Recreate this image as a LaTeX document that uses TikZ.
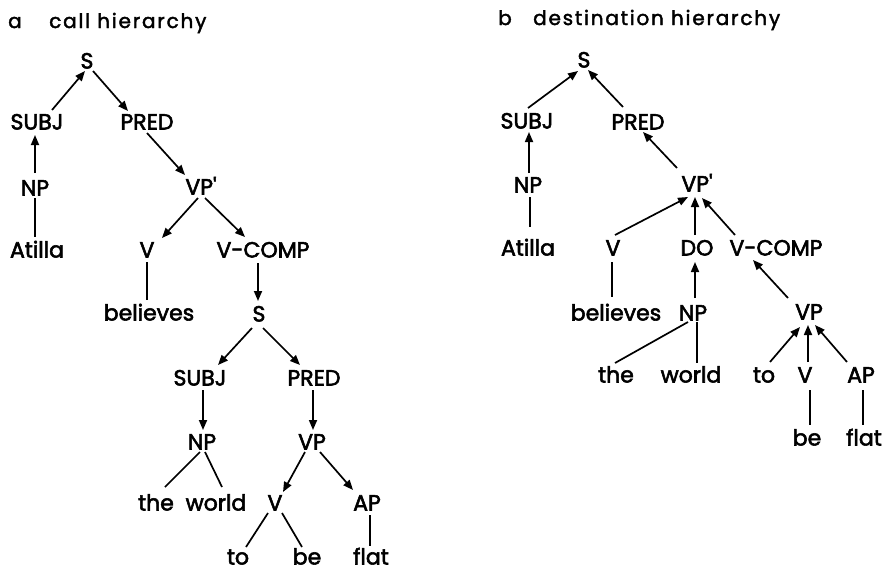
\documentclass[tikz,border=0pt]{standalone}
\usepackage{fontspec}
\setmainfont{Poppins}
\newfontfamily\labfont{Poppins}[FakeBold=2.5]
\newfontfamily\ttlfont{Poppins}[FakeBold=2.0,LetterSpace=9]
\usetikzlibrary{arrows.meta,calc}
\tikzset{
  lab/.style={font=\labfont\fontsize{22}{26}\selectfont, inner sep=0pt, text height=15pt, text depth=0pt, anchor=center},
  ttl/.style={font=\ttlfont\fontsize{20}{24}\selectfont, inner sep=0pt, anchor=base west},
  edge/.style={line width=1.7pt},
  arr/.style={edge, -{Triangle[length=10pt,width=8pt]}}
}
\begin{document}
\begin{tikzpicture}[x=1pt,y=-1pt]
\useasboundingbox (0,0) rectangle (884,573);

% ---------- headings ----------
\node[ttl] (tagA) at (8,28) {a};
\node[ttl] (titleA) at (49,28) {call hierarchy};
\node[ttl] (tagB) at (498,25) {b};
\node[ttl] (titleB) at (533,25) {destination hierarchy};

% ---------- a: call hierarchy ----------
\node[lab] (sA) at (87,61) {S};
\node[lab] (subjA) at (37,122) {SUBJ};
\node[lab] (predA) at (147,122) {PRED};
\node[lab] (npA) at (35,188) {NP};
\node[lab] (atillaA) at (37,250) {Atilla};
\node[lab] (vppA) at (201,187) {VP\textquotesingle};
\node[lab] (vA) at (147,250) {V};
\node[lab] (vcompA) at (263,250) {V-COMP};
\node[lab] (believesA) at (149,313) {believes};
\node[lab] (s2A) at (259,314) {S};
\node[lab] (subj2A) at (200,378) {SUBJ};
\node[lab] (pred2A) at (314,378) {PRED};
\node[lab] (np2A) at (202,442) {NP};
\node[lab] (vpA) at (312,442) {VP};
\node[lab] (theA) at (156,503) {the};
\node[lab] (worldA) at (216,503) {world};
\node[lab] (v2A) at (275,503) {V};
\node[lab] (apA) at (367,503) {AP};
\node[lab] (toA) at (238,557) {to};
\node[lab] (beA) at (307,557) {be};
\node[lab] (flatA) at (371,557) {flat};

\draw[arr] ($(subjA)+(15,-12)$) -- ($(sA)+(-2,10)$);
\draw[arr] ($(sA)+(6,10)$) -- ($(predA)+(-19,-11)$);
\draw[arr] ($(npA)+(0,-15)$) -- ($(subjA)+(-2,13)$);
\draw[edge] ($(npA)+(0,10)$) -- ($(atillaA)+(-2,-13)$);
\draw[arr] ($(predA)+(0,11)$) -- ($(vppA)+(-16,-12)$);
\draw[arr] ($(vppA)+(-3,11)$) -- ($(vA)+(15,-12)$);
\draw[arr] ($(vppA)+(4,11)$) -- ($(vcompA)+(-18,-13)$);
\draw[edge] ($(vA)+(0,12)$) -- ($(believesA)+(-2,-13)$);
\draw[arr] ($(vcompA)+(-5,13)$) -- ($(s2A)+(-1,-13)$);
\draw[arr] ($(s2A)+(-7,14)$) -- ($(subj2A)+(18,-13)$);
\draw[arr] ($(s2A)+(4,14)$) -- ($(pred2A)+(-14,-13)$);
\draw[arr] ($(subj2A)+(3,12)$) -- ($(np2A)+(1,-12)$);
\draw[arr] ($(pred2A)+(-1,12)$) -- ($(vpA)+(1,-12)$);
\draw[arr] ($(vpA)+(-7,10)$) -- ($(v2A)+(8,-11)$);
\draw[arr] ($(vpA)+(8,10)$) -- ($(apA)+(-14,-13)$);
\draw[edge] ($(np2A)+(-2,10)$) -- ($(theA)+(9,-16)$);
\draw[edge] ($(np2A)+(3,10)$) -- ($(worldA)+(6,-16)$);
\draw[edge] ($(v2A)+(-7,10)$) -- ($(toA)+(8,-10)$);
\draw[edge] ($(v2A)+(7,10)$) -- ($(beA)+(-5,-10)$);
\draw[edge] ($(apA)+(3,12)$) -- ($(flatA)+(-1,-11)$);

% ---------- b: destination hierarchy ----------
\node[lab] (sB) at (584,60) {S};
\node[lab] (subjB) at (527,121) {SUBJ};
\node[lab] (predB) at (638,122) {PRED};
\node[lab] (npB) at (528,185) {NP};
\node[lab] (atillaB) at (528,248) {Atilla};
\node[lab] (vppB) at (697,184) {VP\textquotesingle};
\node[lab] (vB) at (613,248) {V};
\node[lab] (doB) at (697,248) {DO};
\node[lab] (vcompB) at (776,248) {V-COMP};
\node[lab] (believesB) at (616,313) {believes};
\node[lab] (np2B) at (693,313) {NP};
\node[lab] (vpB) at (809,312) {VP};
\node[lab] (theB) at (616,375) {the};
\node[lab] (worldB) at (691,375) {world};
\node[lab] (toB) at (764,375) {to};
\node[lab] (v2B) at (805,375) {V};
\node[lab] (apB) at (861,375) {AP};
\node[lab] (beB) at (807,438) {be};
\node[lab] (flatB) at (864,438) {flat};

\draw[arr] ($(subjB)+(1,-13)$) -- ($(sB)+(-6,11)$);
\draw[arr] ($(predB)+(-15,-15)$) -- ($(sB)+(4,10)$);
\draw[arr] ($(npB)+(1,-12)$) -- ($(subjB)+(2,11)$);
\draw[edge] ($(npB)+(2,12)$) -- ($(atillaB)+(2,-21)$);
\draw[arr] ($(vppB)+(-20,-16)$) -- ($(predB)+(5,10)$);
\draw[arr] ($(vB)+(2,-13)$) -- ($(vppB)+(-9,13)$);
\draw[arr] ($(doB)+(-2,-13)$) -- ($(vppB)+(-2,13)$);
\draw[arr] ($(vcompB)+(-41,-13)$) -- ($(vppB)+(5,14)$);
\draw[edge] ($(vB)+(-1,14)$) -- ($(believesB)+(-4,-16)$);
\draw[arr] ($(np2B)+(2,-15)$) -- ($(doB)+(-2,14)$);
\draw[arr] ($(vpB)+(-21,-14)$) -- ($(vcompB)+(-23,12)$);
\draw[edge] ($(np2B)+(-5,9)$) -- ($(theB)+(-1,-12)$);
\draw[edge] ($(np2B)+(4,9)$) -- ($(worldB)+(6,-12)$);
\draw[arr] ($(toB)+(6,-13)$) -- ($(vpB)+(-9,15)$);
\draw[arr] ($(v2B)+(3,-13)$) -- ($(vpB)+(-1,13)$);
\draw[arr] ($(apB)+(-14,-13)$) -- ($(vpB)+(6,13)$);
\draw[edge] ($(v2B)+(5,15)$) -- ($(beB)+(3,-13)$);
\draw[edge] ($(apB)+(2,15)$) -- ($(flatB)+(-1,-13)$);
\end{tikzpicture}
\end{document}
